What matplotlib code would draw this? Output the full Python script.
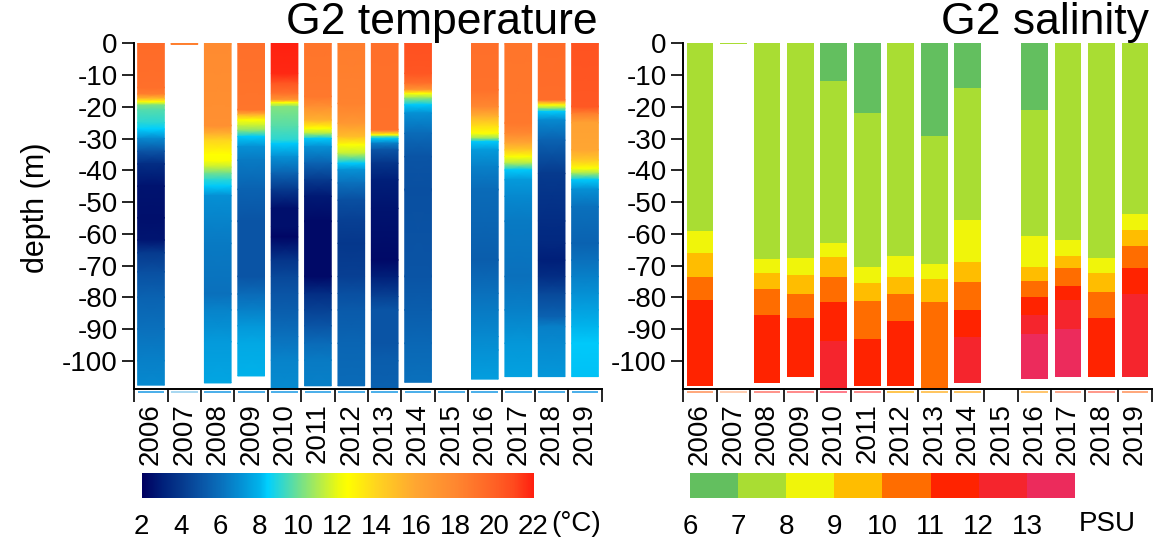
import numpy as np
import matplotlib
matplotlib.use("Agg")
import matplotlib.pyplot as plt
import matplotlib.transforms as mtransforms
from matplotlib.colors import LinearSegmentedColormap, ListedColormap, BoundaryNorm, Normalize

plt.rcParams['font.family'] = ['Liberation Sans', 'DejaVu Sans']
plt.rcParams['axes.unicode_minus'] = False

# ---------------- data ----------------
years = [2006, 2007, 2008, 2009, 2010, 2011, 2012, 2013, 2014, 2015, 2016, 2017, 2018, 2019]

# temperature profiles (depth in m, temperature in deg C)
t2006_depth = [0, -14, -16, -17.5, -18.5, -19.5, -21, -25, -27, -30, -34, -38, -45, -55, -62, -66, -72, -80, -90, -100, -107.7]
t2006_temp = [19.5, 19.3, 18.5, 15, 12.4, 10.2, 9.6, 9.0, 8.4, 6.8, 5.0, 3.5, 2.6, 2.5, 2.7, 4.0, 4.8, 5.5, 6.0, 6.5, 6.8]
t2007_depth = [0, -0.35]
t2007_temp = [18.5, 18.5]
t2008_depth = [0, -26, -28.5, -30.5, -35, -37, -39, -41, -43, -45, -48, -56, -63, -79, -84, -94, -107]
t2008_temp = [17.8, 17.5, 15.5, 14.0, 12.5, 12.4, 11.3, 10.0, 9.0, 8.3, 7.0, 6.6, 6.3, 6.0, 6.6, 7.3, 7.6]
t2009_depth = [0, -21, -22.5, -24.2, -26, -27.4, -29.4, -32.6, -36.8, -46, -56, -73.5, -79, -84, -89, -94.5, -104.8]
t2009_temp = [19.3, 19.0, 15.5, 12.4, 11.3, 10.5, 8.3, 7.0, 6.3, 5.5, 5.0, 5.0, 5.8, 6.5, 7.2, 7.7, 7.9]
t2010_depth = [0, -9.5, -12.6, -15.8, -17.9, -18.7, -20, -26.3, -30.5, -31.6, -35.7, -41, -46, -52, -57.8, -61, -68.3, -73.5, -78.8, -84, -92.4, -99.8, -112]
t2010_temp = [22, 21.8, 20.5, 19.2, 17.0, 12.5, 10.3, 9.6, 9.0, 8.3, 7.0, 5.5, 4.0, 2.5, 2.5, 2.2, 3.8, 4.5, 5.0, 5.3, 6.0, 6.6, 6.9]
t2011_depth = [0, -16.8, -20, -24.2, -26.8, -28.4, -30, -32.6, -37.8, -43, -48.2, -56, -73.5, -78.8, -84, -89, -94.5, -99.8, -107.9]
t2011_temp = [19.0, 18.8, 17.5, 15.5, 12.5, 11.0, 8.3, 7.0, 5.5, 4.0, 2.8, 2.3, 2.3, 3.5, 4.3, 5.0, 5.8, 6.3, 6.5]
t2012_depth = [0, -19, -25.2, -29.4, -32, -34.7, -37.8, -39.9, -44, -49.4, -56, -63, -73.5, -78.8, -84, -94.5, -107.9]
t2012_temp = [18.6, 18.3, 17.0, 15.0, 12.4, 11.3, 8.3, 7.0, 6.0, 4.8, 4.2, 3.9, 4.2, 4.8, 5.2, 5.6, 5.8]
t2013_depth = [0, -27.3, -27.8, -28.9, -29.4, -30, -31.5, -33.6, -37.8, -43, -52, -68.3, -73.5, -79.8, -84, -94.5, -100, -112]
t2013_temp = [19.3, 19.2, 17.5, 12.4, 10.0, 8.3, 6.5, 5.0, 3.8, 3.0, 2.6, 2.3, 3.0, 4.3, 5.0, 5.0, 5.3, 5.5]
t2014_depth = [0, -9.5, -12.6, -14.7, -15.8, -17.3, -19.4, -22, -28.4, -35.7, -46, -73.5, -84, -94.5, -106.8]
t2014_temp = [20.7, 20.5, 19.3, 17.0, 12.5, 10.5, 8.3, 7.0, 5.8, 5.0, 4.8, 5.0, 5.3, 5.7, 6.0]
t2015_depth = []
t2015_temp = []
t2016_depth = [0, -14.7, -20, -23.1, -26.3, -28.4, -30, -31, -33.6, -38.9, -46, -68.3, -78.8, -84, -92.4, -96.6, -105.8]
t2016_temp = [19.3, 19.2, 18.0, 15.5, 13.5, 12.4, 10.5, 8.3, 7.3, 6.5, 5.8, 5.3, 6.0, 6.3, 6.8, 7.0, 7.4]
t2017_depth = [0, -25.2, -28.4, -31.5, -33.6, -35.7, -37.8, -39.9, -43, -48.2, -56, -73.5, -84, -94.5, -105]
t2017_temp = [19.0, 18.8, 18.0, 16.0, 14.5, 12.4, 11.0, 8.3, 7.3, 6.8, 6.3, 6.0, 6.5, 7.2, 7.5]
t2018_depth = [0, -17.9, -18.4, -19.5, -20.5, -21.5, -24.2, -30.5, -41, -56, -63, -68.3, -73.5, -78.8, -86.1, -89.3, -94.5, -105]
t2018_temp = [19.5, 19.4, 17.0, 12.4, 10.5, 8.3, 6.8, 5.5, 4.0, 3.5, 3.3, 3.0, 3.5, 4.5, 5.5, 6.5, 6.8, 7.2]
t2019_depth = [0, -20, -22.1, -25, -33.6, -36.8, -39.4, -41, -43, -46, -51.5, -63, -68.3, -73.5, -78.8, -84, -89.3, -94.5, -105]
t2019_temp = [20.6, 20.4, 18.5, 16.3, 16.0, 14.5, 12.4, 10.8, 8.3, 7.0, 6.0, 5.5, 6.0, 6.5, 7.0, 7.5, 8.0, 8.3, 8.2]

# salinity layers: bottom depth of each layer (m) and salinity class (PSU)
s2006_bottom = [-59.0, -66.1, -73.5, -80.8, -108.0]
s2006_psu = [7.5, 8.5, 9.5, 10.5, 11.5]
s2007_bottom = [-0.35]
s2007_psu = [7.5]
s2008_bottom = [-68.0, -72.3, -77.5, -85.5, -106.9]
s2008_psu = [7.5, 8.5, 9.5, 10.5, 11.5]
s2009_bottom = [-67.6, -72.9, -79.0, -86.6, -105.0]
s2009_psu = [7.5, 8.5, 9.5, 10.5, 11.5]
s2010_bottom = [-11.9, -63.0, -67.3, -73.6, -81.5, -93.8, -112.0]
s2010_psu = [6.5, 7.5, 8.5, 9.5, 10.5, 11.5, 12.5]
s2011_bottom = [-22.0, -70.6, -75.5, -81.2, -93.1, -108.0]
s2011_psu = [6.5, 7.5, 8.5, 9.5, 10.5, 11.5]
s2012_bottom = [-67.0, -73.7, -79.0, -87.4, -108.0]
s2012_psu = [7.5, 8.5, 9.5, 10.5, 11.5]
s2013_bottom = [-29.2, -69.4, -74.3, -81.4, -112.0]
s2013_psu = [6.5, 7.5, 8.5, 9.5, 10.5]
s2014_bottom = [-14.2, -55.7, -68.8, -75.1, -84.0, -92.4, -106.9]
s2014_psu = [6.5, 7.5, 8.5, 9.5, 10.5, 11.5, 12.5]
s2015_bottom = []
s2015_psu = []
s2016_bottom = [-21.0, -60.6, -70.4, -75.0, -80.0, -85.7, -91.6, -105.9]
s2016_psu = [6.5, 7.5, 8.5, 9.5, 10.5, 11.5, 12.5, 13.5]
s2017_bottom = [-62.0, -66.9, -70.9, -76.5, -81.0, -90.1, -105.0]
s2017_psu = [7.5, 8.5, 9.5, 10.5, 11.5, 12.5, 13.5]
s2018_bottom = [-67.6, -72.3, -78.5, -86.6, -105.0]
s2018_psu = [7.5, 8.5, 9.5, 10.5, 11.5]
s2019_bottom = [-53.8, -58.7, -63.8, -70.7, -79.1, -105.0]
s2019_psu = [7.5, 8.5, 9.5, 10.5, 11.5, 12.5]

depth_ticks = [0, -10, -20, -30, -40, -50, -60, -70, -80, -90, -100]
temp_ticks = [2, 4, 6, 8, 10, 12, 14, 16, 18, 20, 22]
psu_bounds = [6, 7, 8, 9, 10, 11, 12, 13, 14]
psu_ticks = [6, 7, 8, 9, 10, 11, 12, 13]

# ---------------- styles ----------------
temp_anchor_vals = [2.0, 3.0, 4.0, 5.0, 6.0, 7.0, 8.0, 8.4, 9.2, 10.0, 11.0, 12.0, 12.5, 14.0, 16.0, 18.0, 20.0, 21.0, 22.0]
temp_anchor_cols = ['#000060', '#00207a', '#063a8e', '#0a55a6', '#0a70bc', '#0590d4', '#00b4ec', '#00d0ff',
                    '#38d8c8', '#70e090', '#b0ec50', '#ecfa10', '#ffff00', '#ffd420', '#ffa632', '#ff8830',
                    '#ff6226', '#ff4a1e', '#ff2010']
tmin, tmax = 2.0, 22.0
tcmap = LinearSegmentedColormap.from_list(
    'temp', [((v - tmin) / (tmax - tmin), c) for v, c in zip(temp_anchor_vals, temp_anchor_cols)], N=512)
tnorm = Normalize(tmin, tmax)

psu_colors = ['#63bf5f', '#a9dd33', '#f0f50a', '#ffbd00', '#ff6d00', '#ff2300', '#f5252d', '#ec2b5c']
scmap = ListedColormap(psu_colors)
snorm = BoundaryNorm(psu_bounds, scmap.N)

temp_under_cols = ['#3aa8e8', '#a0d4f0', '#3aa8e8', '#3aa8e8', '#3aa8e8', '#3aa8e8', '#3aa8e8',
                   '#3aa8e8', '#3aa8e8', '#3aa8e8', '#3aa8e8', '#3aa8e8', '#3aa8e8', '#3aa8e8']
sal_under_cols = ['#ffa070', '#ffc8a8', '#ff8a80', '#ff8080', '#ff7080', '#ff8080', '#ffc040',
                  '#ffc050', '#ffc050', 'none', '#ffc060', '#ffa080', '#ff9080', '#ffa070']

temp_profiles = {y: (globals()['t%d_depth' % y], globals()['t%d_temp' % y]) for y in years}
sal_profiles = {y: (globals()['s%d_bottom' % y], globals()['s%d_psu' % y]) for y in years}

W, H = 1173, 540
fig = plt.figure(figsize=(W / 100, H / 100), dpi=100)

def px_rect(x0, y0, x1, y1):
    return [x0 / W, 1 - y1 / H, (x1 - x0) / W, (y1 - y0) / H]

ax_t = fig.add_axes(px_rect(134.3, 43.3, 601.7, 389.3))
ax_s = fig.add_axes(px_rect(683.3, 43.3, 1151.7, 389.3))

FS = 20
colw = 0.4

def style_axis(ax, under_cols):
    n = len(years)
    ax.set_xlim(-0.5, n - 0.5)
    ax.set_ylim(-109, 0)
    for s in ['top', 'right']:
        ax.spines[s].set_visible(False)
    for s in ['left', 'bottom']:
        ax.spines[s].set_linewidth(1.4)
    ax.set_yticks(depth_ticks)
    ax.set_yticklabels([str(v) for v in depth_ticks])
    ax.tick_params(axis='y', direction='out', length=9, width=1.2, pad=3, labelsize=FS)
    ax.set_xticks(range(n))
    ax.set_xticklabels([str(y) for y in years], rotation=90)
    ax.set_xticks(np.arange(-0.5, n, 1.0), minor=True)
    ax.tick_params(axis='x', which='major', length=0, pad=10, labelsize=FS)
    ax.tick_params(axis='x', which='minor', direction='out', length=9, width=1.2)
    trans = mtransforms.offset_copy(ax.get_xaxis_transform(), fig=fig, y=-3, units='dots')
    for i, c in enumerate(under_cols):
        if c == 'none':
            continue
        ax.plot([i - colw, i + colw], [0, 0], color=c, lw=1.3, transform=trans, clip_on=False,
                solid_capstyle='butt')

# temperature columns
for i, y in enumerate(years):
    d, t = temp_profiles[y]
    if len(d) < 2:
        continue
    d = np.asarray(d, float)
    t = np.asarray(t, float)
    X = np.column_stack([np.full(len(d), i - colw), np.full(len(d), i + colw)])
    Y = np.column_stack([d, d])
    C = np.column_stack([t, t])
    ax_t.pcolormesh(X, Y, C, cmap=tcmap, norm=tnorm, shading='gouraud')
style_axis(ax_t, temp_under_cols)

# salinity columns
for i, y in enumerate(years):
    bots, vals = sal_profiles[y]
    top = 0.0
    for b, v in zip(bots, vals):
        ax_s.bar(i, b - top, bottom=top, width=2 * colw, color=scmap(snorm(v)), linewidth=0)
        top = b
style_axis(ax_s, sal_under_cols)

# depth label and titles
fig.text(36 / W, 1 - 208 / H, 'depth (m)', rotation=90, ha='center', va='center', fontsize=22)
fig.text(598 / W, 1 - 34.3 / H, 'G2 temperature', ha='right', va='baseline', fontsize=32)
fig.text(1149 / W, 1 - 34.3 / H, 'G2 salinity', ha='right', va='baseline', fontsize=32)

# temperature colour bar
cax_t = fig.add_axes(px_rect(141.7, 473.3, 533.3, 498.3))
grad = np.linspace(tmin, tmax, 600).reshape(1, -1)
cax_t.imshow(grad, aspect='auto', cmap=tcmap, norm=tnorm, extent=[tmin, tmax, 0, 1])
cax_t.set_xlim(tmin, tmax)
cax_t.set_yticks([])
cax_t.set_xticks(temp_ticks)
cax_t.set_xticklabels([str(v) for v in temp_ticks])
cax_t.tick_params(axis='x', length=0, pad=11, labelsize=FS)
for s in cax_t.spines.values():
    s.set_visible(False)
fig.text(551 / W, 1 - 531 / H, '(°C)', ha='left', va='baseline', fontsize=FS)

# salinity colour bar
cax_s = fig.add_axes(px_rect(690, 473.3, 1075, 498.3))
sgrad = (np.array(psu_bounds[:-1]) + 0.5).reshape(1, -1)
cax_s.imshow(sgrad, aspect='auto', cmap=scmap, norm=snorm, extent=[6, 14, 0, 1], interpolation='nearest')
cax_s.set_xlim(6, 14)
cax_s.set_yticks([])
cax_s.set_xticks(psu_ticks)
cax_s.set_xticklabels([str(v) for v in psu_ticks])
cax_s.tick_params(axis='x', length=0, pad=11, labelsize=FS)
for s in cax_s.spines.values():
    s.set_visible(False)
fig.text(1107.5 / W, 1 - 531 / H, 'PSU', ha='center', va='baseline', fontsize=FS)

fig.savefig('out.png', dpi=100)
